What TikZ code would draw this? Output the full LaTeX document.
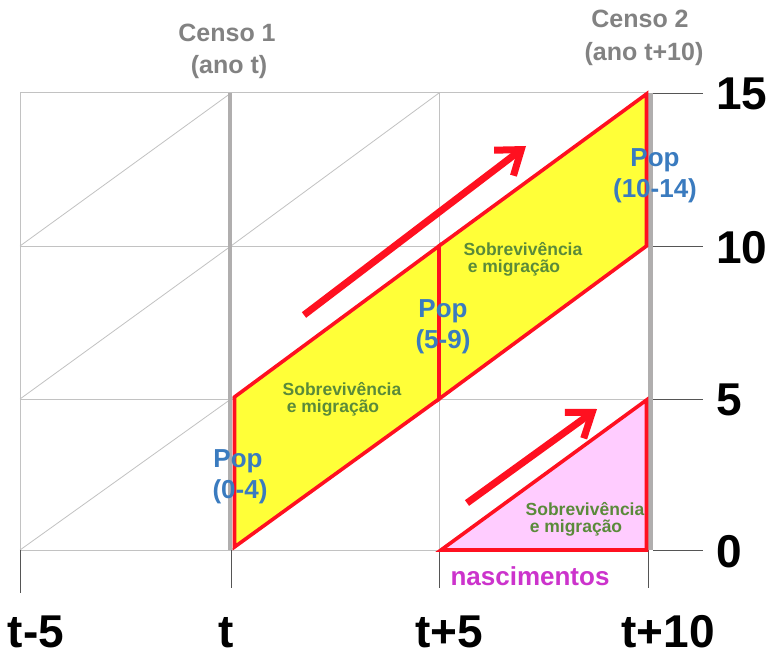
\documentclass[tikz,border=0pt]{standalone}
\usepackage{fontspec}
\setmainfont{Liberation Sans}
\usetikzlibrary{arrows.meta}
\definecolor{gridgray}{HTML}{C2C2C2}
\definecolor{censusgray}{HTML}{B0AEAE}
\definecolor{tickgray}{HTML}{555555}
\definecolor{labelgray}{HTML}{828282}
\definecolor{popblue}{HTML}{3A7BBF}
\definecolor{sobgreen}{HTML}{5A8A3A}
\definecolor{nascmag}{HTML}{CC33CC}
\definecolor{redline}{HTML}{FF1020}
\definecolor{yellowfill}{HTML}{FFFF38}
\definecolor{pinkfill}{HTML}{FFCCFF}
\tikzset{
  gridline/.style={draw=gridgray, line width=1pt},
  censusline/.style={draw=censusgray, line width=4.5pt},
  tickline/.style={draw=tickgray, line width=0.9pt},
  cohort/.style={draw=redline, line width=3.6pt, line join=miter},
  flow/.style={draw=redline, line width=7pt, -{Straight Barb[length=22pt,width=32pt]}},
  censuslabel/.style={text=labelgray, font=\fontsize{25}{30}\selectfont\bfseries, anchor=base, inner sep=0pt},
  axislabel/.style={font=\fontsize{46}{50}\selectfont\bfseries, inner sep=0pt, text depth=0pt},
  poplabel/.style={text=popblue, font=\fontsize{26}{30}\selectfont\bfseries, anchor=base, inner sep=0pt},
  soblabel/.style={text=sobgreen, font=\fontsize{17.5}{20}\selectfont\bfseries, anchor=base, inner sep=0pt},
  nasclabel/.style={text=nascmag, font=\fontsize{26}{30}\selectfont\bfseries, anchor=base, inner sep=0pt}
}
\begin{document}
\begin{tikzpicture}[x=1pt,y=-1pt]
\useasboundingbox (0,0) rectangle (773,655);
\fill[white] (0,0) rectangle (773,655);
% grid
\foreach \yy in {93,246,399,550} \draw[gridline] (20,\yy) -- (648,\yy);
\foreach \xx in {20,439} \draw[gridline] (\xx,93) -- (\xx,550);
\foreach \xa/\xb in {20/231,231/439,439/648}
  \foreach \ya/\yb in {246/93,399/246,550/399}
    \draw[gridline, line width=0.8pt] (\xa,\ya) -- (\xb,\yb);
% ticks
\foreach \xx/\yb in {20/593,231/588,439/588,648/588} \draw[tickline] (\xx,550) -- (\xx,\yb);
\foreach \yy in {93,246,399,550} \draw[tickline] (653,\yy) -- (703,\yy);
% census lines
\draw[censusline] (230,93) -- (230,550);
\draw[censusline] (650.5,93) -- (650.5,550);
% cohorts
\coordinate (a1) at (234.5,547);
\coordinate (a2) at (234.5,397);
\coordinate (m1) at (439,246);
\coordinate (m2) at (439,399);
\coordinate (b1) at (646.5,94);
\coordinate (b2) at (646.5,246);
\coordinate (c1) at (441,550);
\coordinate (c2) at (646.5,400);
\coordinate (c3) at (646.5,550);
\filldraw[cohort, fill=yellowfill] (a1) -- (a2) -- (m1) -- (m2) -- cycle;
\filldraw[cohort, fill=yellowfill] (m2) -- (m1) -- (b1) -- (b2) -- cycle;
\filldraw[cohort, fill=pinkfill] (c1) -- (c2) -- (c3) -- cycle;
% flow arrows
\coordinate (f1s) at (304,315);
\coordinate (f1e) at (526,146);
\coordinate (f2s) at (467,503);
\coordinate (f2e) at (597,409);
\draw[flow] (f1s) -- (f1e);
\draw[flow] (f2s) -- (f2e);
% census labels
\node[censuslabel] (c1a) at (227,42) {Censo 1};
\node[censuslabel] (c1b) at (229,74) {(ano t)};
\node[censuslabel] (c2a) at (640,28) {Censo 2};
\node[censuslabel] (c2b) at (644,61) {(ano t+10)};
% population labels
\node[poplabel] (p0a) at (238,467) {Pop};
\node[poplabel] (p0b) at (240,498) {(0-4)};
\node[poplabel] (p5a) at (443,317) {Pop};
\node[poplabel] (p5b) at (443,348) {(5-9)};
\node[poplabel] (p10a) at (655,167) {Pop};
\node[poplabel] (p10b) at (655,197) {(10-14)};
% survival labels
\node[soblabel] (s1a) at (342,395) {Sobrevivência};
\node[soblabel] (s1b) at (333,412) {e migração};
\node[soblabel] (s2a) at (523,255) {Sobrevivência};
\node[soblabel] (s2b) at (514,272) {e migração};
\node[soblabel] (s3a) at (585,515) {Sobrevivência};
\node[soblabel] (s3b) at (576,532) {e migração};
\node[nasclabel] (nasc) at (530,585) {nascimentos};
% age axis
\node[axislabel, anchor=west] (y15) at (716,94) {15};
\node[axislabel, anchor=west] (y10) at (716,247) {10};
\node[axislabel, anchor=west] (y5) at (716,400) {5};
\node[axislabel, anchor=west] (y0) at (716,551) {0};
% time axis
\node[axislabel, anchor=base] (tm5) at (36,647) {t-5};
\node[axislabel, anchor=base] (t0) at (226,647) {t};
\node[axislabel, anchor=base] (t5) at (449,647) {t+5};
\node[axislabel, anchor=base] (t10) at (668,647) {t+10};
\end{tikzpicture}
\end{document}
